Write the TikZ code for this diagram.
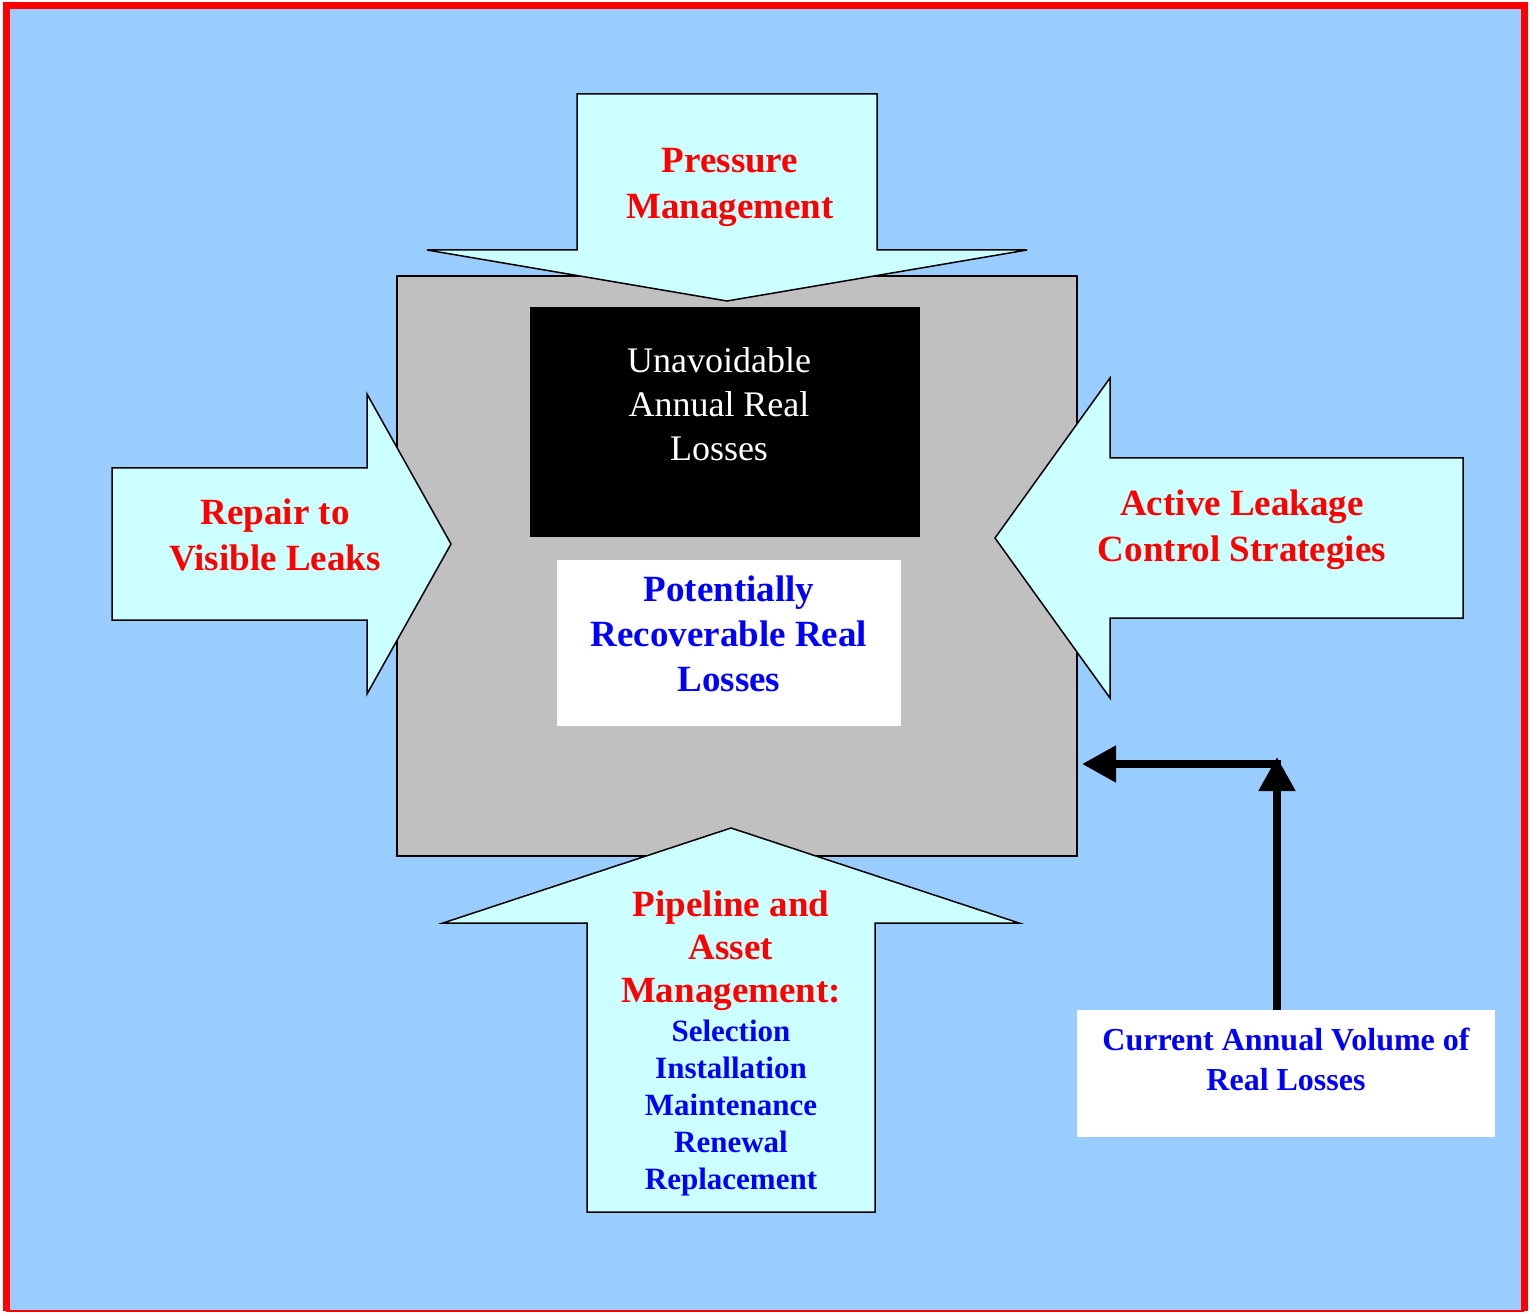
\documentclass[tikz,border=0pt]{standalone}
\usepackage{fontspec}
\setmainfont{Liberation Serif}
\usetikzlibrary{arrows.meta}

\definecolor{skyblue}{HTML}{99CCFF}
\definecolor{paleaqua}{HTML}{CCFFFF}
\definecolor{boxgray}{HTML}{C0C0C0}

\tikzset{
  blockarrow/.style={fill=paleaqua, draw=black, line width=1.5pt, line join=miter},
  redlabel/.style={text=red, font=\bfseries\fontsize{37}{46}\selectfont, align=center},
  bluelabel/.style={text=blue, font=\bfseries\fontsize{37}{45}\selectfont, align=center},
  smallblue/.style={text=blue, font=\bfseries\fontsize{31}{37}\selectfont, align=center},
  feed/.style={line width=8pt, -{Triangle[length=34pt, width=35pt]}},
}

\begin{document}
\begin{tikzpicture}[x=1pt, y=-1pt, outer sep=0pt]
  \useasboundingbox (0,0) rectangle (1535,1313);
  % frame
  \fill[skyblue] (6,6) rectangle (1524,1311);
  \draw[red, line width=7pt] (6,1311) -- (6,6) -- (1524,6) -- (1524,1311);
  \draw[red, line width=2pt] (6,1311) -- (1524,1311);

  % boxes
  \node[draw, fill=boxgray, line width=1.5pt, minimum width=680pt, minimum height=580pt] (core) at (737,566) {};
  \node[fill=black, minimum width=390pt, minimum height=230pt] (unavoid) at (725,422) {};
  \node[fill=white, minimum width=344pt, minimum height=166pt] (recover) at (729,643) {};
  \node[fill=white, minimum width=418pt, minimum height=127pt] (current) at (1286,1073) {};

  % block arrows
  \draw[blockarrow] (577,94) -- (877,94) -- (877,250) -- (1027,250) -- (727,301) -- (427,250) -- (577,250) -- cycle;
  \draw[blockarrow] (112,468) -- (367,468) -- (367,394) -- (451,544) -- (367,694) -- (367,620) -- (112,620) -- cycle;
  \draw[blockarrow] (1463,458) -- (1110,458) -- (1110,378) -- (995,538) -- (1110,698) -- (1110,618) -- (1463,618) -- cycle;
  \draw[blockarrow] (587,1212) -- (875,1212) -- (875,923) -- (1019,923) -- (731,828) -- (443,923) -- (587,923) -- cycle;

  % labels
  \node[redlabel] (pressure) at (730,187) {Pressure\\Management};
  \node[redlabel] (repair) at (275,535) {Repair to\\Visible Leaks};
  \node[redlabel] (active) at (1242,530) {Active Leakage\\Control Strategies};
  \node[redlabel, font=\bfseries\fontsize{37}{43}\selectfont] (pipeline) at (731,951) {Pipeline and\\Asset\\Management:};
  \node[smallblue] (tasks) at (731,1108) {Selection\\Installation\\Maintenance\\Renewal\\Replacement};
  \node[text=white, font=\fontsize{36}{44}\selectfont, align=center] (unavoidtext) at (719,404) {Unavoidable\\Annual Real\\Losses};
  \node[bluelabel] (recovertext) at (729,634) {Potentially\\Recoverable Real\\Losses};
  \node[smallblue, font=\bfseries\fontsize{32}{40}\selectfont] (currenttext) at (1286,1059) {Current Annual Volume of\\Real Losses};

  % connector
  \coordinate (bend) at (1277,764);
  \draw[feed] (current.north -| bend) -- ([yshift=7pt]bend);
  \draw[feed] ([xshift=4pt]bend) -- ([xshift=5pt]core.east |- bend);
\end{tikzpicture}
\end{document}
